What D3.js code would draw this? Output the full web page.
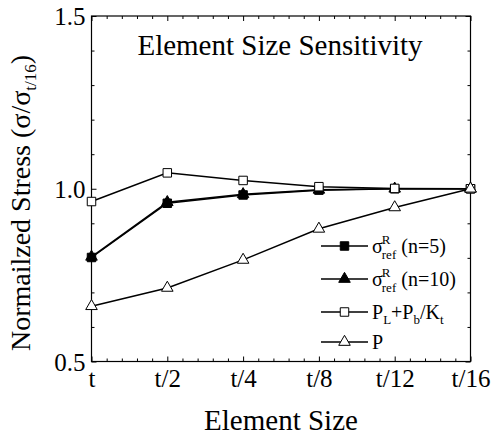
<!DOCTYPE html>
<html>
<head>
<meta charset="utf-8">
<script src="https://cdn.jsdelivr.net/npm/d3@7.9.0/dist/d3.min.js"></script>
<style>
  body { margin: 0; background: #fff; }
  svg { display: block; }
</style>
</head>
<body>
<div id="chart"></div>
<script>
// values
const categories = ['t', 't/2', 't/4', 't/8', 't/12', 't/16'];
const sigmaN5 = [0.801, 0.958, 0.982, 0.996, 1.0, 1.0];
const sigmaN10 = [0.803, 0.961, 0.984, 0.997, 1.0, 1.0];
const plPbKt = [0.963, 1.046, 1.024, 1.006, 1.001, 1.0];
const pTotal = [0.660, 0.713, 0.794, 0.884, 0.946, 1.0];
const yTicks = [0.5, 1.0, 1.5];

const FONT = "'Liberation Serif', Tinos, 'Times New Roman', serif";
const width = 491;
const height = 440;
const area = { left: 91.5, right: 470.5, top: 16, bottom: 361.5 };

const svg = d3.select('#chart')
  .append('svg')
  .attr('width', width)
  .attr('height', height)
  .style('font-family', FONT);

const xScale = d3.scalePoint()
  .domain(categories)
  .range([area.left, area.right]);

// index scale, only used for the minor ticks between categories
const xIndex = d3.scaleLinear()
  .domain([0, categories.length - 1])
  .range([area.left, area.right]);

const yScale = d3.scaleLinear()
  .domain([0.5, 1.5])
  .range([area.bottom, area.top]);

const minorX = d3.range(0, 5.001, 0.2).filter(d => Math.abs(d - Math.round(d)) > 1e-6);
const minorY = d3.range(0.5, 1.5001, 0.1).filter(d => Math.abs(d * 2 - Math.round(d * 2)) > 1e-6);

function styleAxis(g) {
  g.select('.domain').remove();
  g.selectAll('line').attr('stroke', '#000').attr('stroke-width', 1);
}

// --- minor ticks on all four sides ---
svg.append('g')
  .attr('transform', `translate(0,${area.bottom})`)
  .call(d3.axisBottom(xIndex).tickValues(minorX).tickSize(-3).tickFormat(''))
  .call(styleAxis);
svg.append('g')
  .attr('transform', `translate(0,${area.top})`)
  .call(d3.axisTop(xIndex).tickValues(minorX).tickSize(-3).tickFormat(''))
  .call(styleAxis);
svg.append('g')
  .attr('transform', `translate(${area.left},0)`)
  .call(d3.axisLeft(yScale).tickValues(minorY).tickSize(-3).tickFormat(''))
  .call(styleAxis);
svg.append('g')
  .attr('transform', `translate(${area.right},0)`)
  .call(d3.axisRight(yScale).tickValues(minorY).tickSize(-3).tickFormat(''))
  .call(styleAxis);

// --- major ticks ---
const xAxis = svg.append('g')
  .attr('transform', `translate(0,${area.bottom})`)
  .call(d3.axisBottom(xScale).tickSize(-5))
  .call(styleAxis);
xAxis.selectAll('text')
  .attr('y', 25.5)
  .attr('dy', 0)
  .attr('fill', '#000')
  .style('font-size', '25px');

svg.append('g')
  .attr('transform', `translate(0,${area.top})`)
  .call(d3.axisTop(xScale).tickSize(-5).tickFormat(''))
  .call(styleAxis);

const yAxis = svg.append('g')
  .attr('transform', `translate(${area.left},0)`)
  .call(d3.axisLeft(yScale).tickValues(yTicks).tickSize(-5).tickFormat(d3.format('.1f')))
  .call(styleAxis);
yAxis.selectAll('text')
  .attr('x', -6)
  .attr('dy', '0.34em')
  .attr('fill', '#000')
  .style('font-size', '25px');

svg.append('g')
  .attr('transform', `translate(${area.right},0)`)
  .call(d3.axisRight(yScale).tickValues(yTicks).tickSize(-5).tickFormat(''))
  .call(styleAxis);

// frame
svg.append('rect')
  .attr('x', area.left)
  .attr('y', area.top)
  .attr('width', area.right - area.left)
  .attr('height', area.bottom - area.top)
  .attr('fill', 'none')
  .attr('stroke', '#000')
  .attr('stroke-width', 1.2);

// --- series ---
const series = [
  { values: sigmaN5, symbol: d3.symbolSquare, size: 72, fill: '#000' },
  { values: sigmaN10, symbol: d3.symbolTriangle, size: 58, fill: '#000' },
  { values: plPbKt, symbol: d3.symbolSquare, size: 72, fill: '#fff' },
  { values: pTotal, symbol: d3.symbolTriangle, size: 58, fill: '#fff' },
];

const line = d3.line()
  .x((d, i) => xScale(categories[i]))
  .y(d => yScale(d));

const plot = svg.append('g');
series.forEach(s => {
  plot.append('path')
    .datum(s.values)
    .attr('d', line)
    .attr('fill', 'none')
    .attr('stroke', '#000')
    .attr('stroke-width', 1.5);
});
series.forEach(s => {
  plot.append('g')
    .selectAll('path')
    .data(s.values)
    .join('path')
    .attr('transform', (d, i) => `translate(${xScale(categories[i])},${yScale(d)})`)
    .attr('d', d3.symbol(s.symbol, s.size))
    .attr('fill', s.fill)
    .attr('stroke', '#000')
    .attr('stroke-width', 1);
});

// --- title and axis labels ---
svg.append('text')
  .attr('x', 280)
  .attr('y', 55)
  .attr('text-anchor', 'middle')
  .style('font-size', '29px')
  .text('Element Size Sensitivity');

svg.append('text')
  .attr('x', 281)
  .attr('y', 430)
  .attr('text-anchor', 'middle')
  .style('font-size', '29px')
  .text('Element Size');

const yLabel = svg.append('text')
  .attr('transform', 'translate(30,203) rotate(-90)')
  .attr('text-anchor', 'middle')
  .style('font-size', '28px');
yLabel.append('tspan').text('Normailzed Stress (σ/σ');
yLabel.append('tspan').attr('dy', 6).style('font-size', '17px').text('t/16');
yLabel.append('tspan').attr('dy', -6).text(')');

// --- legend ---
const legend = svg.append('g');
const legendRows = [246, 279, 312, 342];
const legendX0 = 321, legendX1 = 368, textX = 372;

series.forEach((s, i) => {
  const cy = legendRows[i];
  legend.append('line')
    .attr('x1', legendX0).attr('x2', legendX1)
    .attr('y1', cy).attr('y2', cy)
    .attr('stroke', '#000').attr('stroke-width', 1.5);
  legend.append('path')
    .attr('transform', `translate(${(legendX0 + legendX1) / 2},${cy})`)
    .attr('d', d3.symbol(s.symbol, s.size))
    .attr('fill', s.fill)
    .attr('stroke', '#000');
});

function sigmaLabel(cy, tail) {
  const base = cy + 7;
  const sig = legend.append('text').attr('x', textX).attr('y', base)
    .style('font-size', '20px').text('σ');
  const w = sig.node().getComputedTextLength();
  legend.append('text').attr('x', textX + w - 1).attr('y', base - 9)
    .style('font-size', '13px').text('R');
  const sub = legend.append('text').attr('x', textX + w - 1).attr('y', base + 6)
    .style('font-size', '13px').text('ref');
  const w2 = sub.node().getComputedTextLength();
  legend.append('text').attr('x', textX + w + w2 + 4).attr('y', base)
    .style('font-size', '20px').text(tail);
}
sigmaLabel(legendRows[0], '(n=5)');
sigmaLabel(legendRows[1], '(n=10)');

const plLabel = legend.append('text').attr('x', textX).attr('y', legendRows[2] + 7)
  .style('font-size', '20px');
plLabel.append('tspan').text('P');
plLabel.append('tspan').attr('dy', 5).style('font-size', '13px').text('L');
plLabel.append('tspan').attr('dy', -5).text('+P');
plLabel.append('tspan').attr('dy', 5).style('font-size', '13px').text('b');
plLabel.append('tspan').attr('dy', -5).text('/K');
plLabel.append('tspan').attr('dy', 5).style('font-size', '13px').text('t');

legend.append('text').attr('x', textX).attr('y', legendRows[3] + 7)
  .style('font-size', '20px').text('P');

// make sure every text uses the serif face, axes set their own family otherwise
svg.selectAll('text').style('font-family', FONT);
</script>
</body>
</html>
